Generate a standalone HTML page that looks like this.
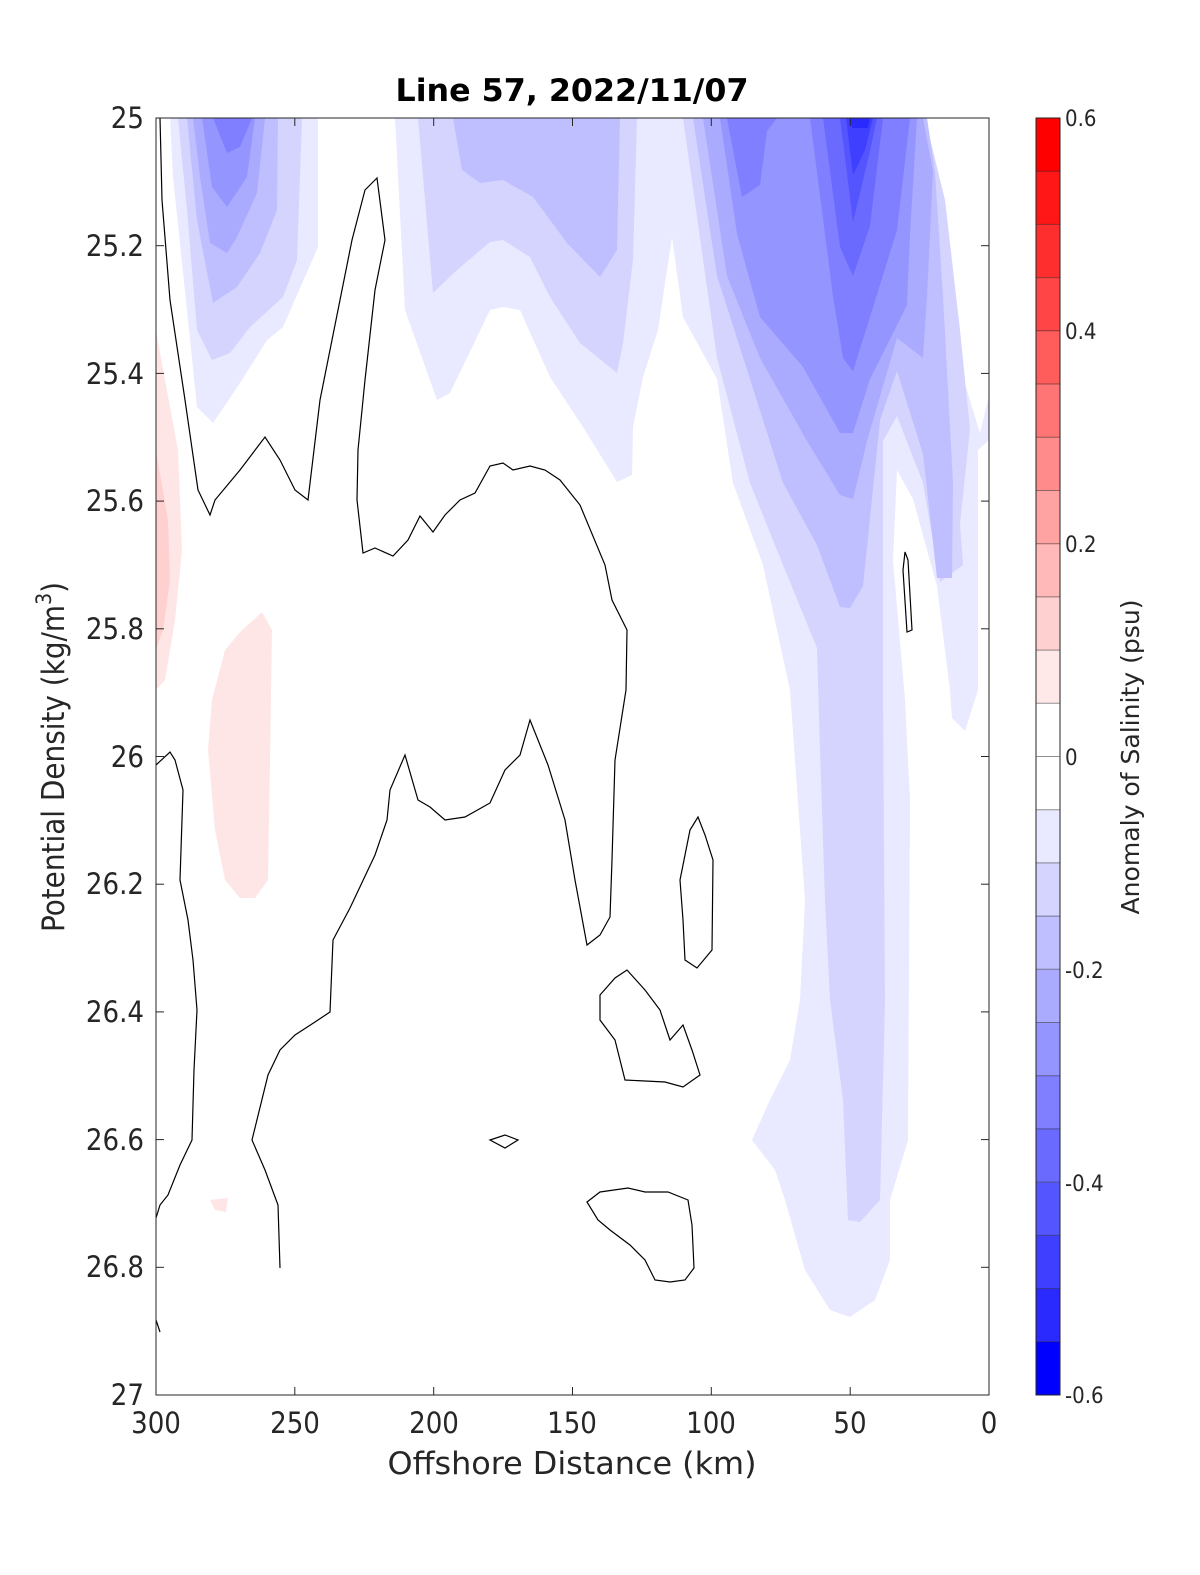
<!DOCTYPE html>
<html><head><meta charset="utf-8"><style>
html,body{margin:0;padding:0;background:#fff;}
svg{display:block;font-family:"DejaVu Sans Condensed","DejaVu Sans","Liberation Sans",sans-serif;}
</style></head><body>
<svg width="1200" height="1575" viewBox="0 0 1200 1575" xmlns="http://www.w3.org/2000/svg">
<rect width="1200" height="1575" fill="#fff"/>
<defs><clipPath id="pc"><rect x="156" y="118" width="833" height="1277"/></clipPath></defs>
<g clip-path="url(#pc)" stroke="none">
<!-- left blob -->
<polygon fill="#e9e9ff" points="170,118 318,118 318,247 283,327 267,340 240,383 213,423 197,407 187,310 173,177"/>
<polygon fill="#d4d4ff" points="178,118 302,118 297,260 283,297 250,327 230,353 212,360 197,330 187,210"/>
<polygon fill="#bfbfff" points="187,118 278,118 277,210 260,253 237,287 213,303 197,220"/>
<polygon fill="#aaaaff" points="193,118 265,118 257,193 237,237 227,253 210,243 200,177"/>
<polygon fill="#9595ff" points="202,118 255,118 247,177 227,207 212,187"/>
<polygon fill="#7f7fff" points="213,118 252,118 240,147 227,153"/>
<!-- combined L1 middle+right -->
<polygon fill="#e9e9ff" points="395,118 923,118 935,185 957,358 980,433 989,396 989,440 978,450 978,690 965,731 952,718 950,690 937,586 913,499 897,470 893,560 905,700 910,800 908,1140 890,1200 890,1260 875,1300 850,1317 830,1310 805,1270 785,1200 775,1170 752,1140 770,1100 790,1060 800,1000 805,900 790,690 763,565 733,483 717,379 683,317 672,237 664,290 658,330 643,377 633,427 632,475 617,482 583,427 550,377 520,310 503,307 490,310 477,337 450,393 437,400 405,310"/>
<!-- middle L2, L3 -->
<polygon fill="#d4d4ff" points="418,118 637,118 633,260 623,343 617,373 580,343 550,297 530,257 503,240 490,242 457,270 433,293"/>
<polygon fill="#bfbfff" points="453,118 620,118 617,250 600,277 567,243 533,197 503,180 480,183 462,170"/>
<!-- right L2 -->
<polygon fill="#d4d4ff" points="683,118 925,118 945,200 960,330 970,429 960,524 963,565 940,582 923,483 897,416 883,441 883,700 885,1000 880,1200 860,1222 848,1220 843,1100 830,1000 825,900 820,750 817,648 783,565 750,483 717,358"/>
<polygon fill="#bfbfff" points="693,118 927,118 935,172 943,296 953,483 952,578 937,578 923,454 897,371 880,420 863,586 850,608 840,607 817,545 783,483 750,379 717,276"/>
<polygon fill="#aaaaff" points="703,118 923,118 933,172 927,296 923,358 897,338 867,441 853,499 840,495 807,441 760,358 727,276"/>
<polygon fill="#9595ff" points="720,118 917,118 910,234 907,305 870,379 853,433 840,433 803,367 760,317 737,234"/>
<polygon fill="#7f7fff" points="727,118 777,118 767,131 760,185 742,197"/>
<polygon fill="#7f7fff" points="810,118 910,118 897,230 870,317 853,371 843,358 833,296"/>
<polygon fill="#6a6aff" points="823,118 883,118 870,226 853,276 840,247"/>
<polygon fill="#5555ff" points="840,118 877,118 870,151 853,222"/>
<polygon fill="#3f3fff" points="846,118 873,118 865,150 853,175"/>
<polygon fill="#2a2aff" points="850,118 870,118 868,128 852,128"/>
<!-- red -->
<polygon fill="#ffe6e6" points="156,330 165,380 178,450 182,550 175,620 165,680 156,690"/>
<polygon fill="#ffd0d0" points="156,450 168,520 170,580 163,630 156,650"/>
<polygon fill="#ffe6e6" points="240,632 262,612 272,630 270,760 268,880 255,898 240,898 225,880 215,830 208,750 212,700 225,650"/>
<polygon fill="#ffe6e6" points="210,1200 228,1198 226,1212 215,1210"/>
<!-- contours -->
<g fill="none" stroke="#000" stroke-width="1.2">
<polyline points="160,118 162,200 170,300 185,400 198,490 210,515 215,500 240,470 265,437 280,460 295,490 308,500 320,400 340,300 352,240 365,190 377,178 385,240 375,290 365,380 358,450 357,500 363,553 375,548 393,556 408,540 420,516 433,532 445,515 460,500 475,493 490,466 503,463 513,470 530,466 545,470 560,480 580,505 605,565 612,600 627,630 626,690 615,760 612,860 610,917 600,935 587,945 575,880 565,820 548,765 530,720 520,755 505,770 490,803 465,817 445,820 430,807 418,800 405,755 390,790 387,820 375,855 350,908 333,940 330,1012 315,1022 295,1035 280,1050 268,1075 252,1140 265,1170 278,1205 280,1268"/>
<polyline points="156,765 170,752 175,760 183,790 180,880 188,920 193,960 197,1010 194,1070 192,1140 180,1165 168,1195 160,1205 156,1218"/>
<polyline points="156,1320 160,1332"/>
<polygon points="680,880 690,830 698,817 705,835 713,860 712,950 697,968 685,960 683,920"/>
<polygon points="600,995 615,978 627,970 645,990 660,1010 670,1040 683,1025 692,1050 700,1075 683,1087 665,1082 625,1080 615,1040 600,1020"/>
<polygon points="490,1140 505,1135 518,1140 505,1148"/>
<polygon points="587,1202 600,1192 628,1188 645,1192 668,1192 688,1200 692,1225 694,1268 685,1280 670,1282 655,1280 645,1260 630,1245 610,1230 598,1220"/>
<polygon points="905,552 908,560 912,630 907,632 903,570"/>
</g>
</g>
<rect x="156" y="118" width="833" height="1277" fill="none" stroke="#262626" stroke-width="1"/>
<g stroke="#262626" stroke-width="1">
<line x1="156" y1="245.7" x2="164" y2="245.7"/><line x1="981" y1="245.7" x2="989" y2="245.7"/>
<line x1="156" y1="373.4" x2="164" y2="373.4"/><line x1="981" y1="373.4" x2="989" y2="373.4"/>
<line x1="156" y1="501.1" x2="164" y2="501.1"/><line x1="981" y1="501.1" x2="989" y2="501.1"/>
<line x1="156" y1="628.8" x2="164" y2="628.8"/><line x1="981" y1="628.8" x2="989" y2="628.8"/>
<line x1="156" y1="756.5" x2="164" y2="756.5"/><line x1="981" y1="756.5" x2="989" y2="756.5"/>
<line x1="156" y1="884.2" x2="164" y2="884.2"/><line x1="981" y1="884.2" x2="989" y2="884.2"/>
<line x1="156" y1="1011.9" x2="164" y2="1011.9"/><line x1="981" y1="1011.9" x2="989" y2="1011.9"/>
<line x1="156" y1="1139.6" x2="164" y2="1139.6"/><line x1="981" y1="1139.6" x2="989" y2="1139.6"/>
<line x1="156" y1="1267.3" x2="164" y2="1267.3"/><line x1="981" y1="1267.3" x2="989" y2="1267.3"/>
<line x1="294.8" y1="1395" x2="294.8" y2="1387"/><line x1="294.8" y1="118" x2="294.8" y2="126"/>
<line x1="433.7" y1="1395" x2="433.7" y2="1387"/><line x1="433.7" y1="118" x2="433.7" y2="126"/>
<line x1="572.5" y1="1395" x2="572.5" y2="1387"/><line x1="572.5" y1="118" x2="572.5" y2="126"/>
<line x1="711.3" y1="1395" x2="711.3" y2="1387"/><line x1="711.3" y1="118" x2="711.3" y2="126"/>
<line x1="850.2" y1="1395" x2="850.2" y2="1387"/><line x1="850.2" y1="118" x2="850.2" y2="126"/>
</g>
<g font-size="29" fill="#262626" text-anchor="end">
<text x="144" y="128">25</text><text x="144" y="256">25.2</text><text x="144" y="384">25.4</text>
<text x="144" y="511">25.6</text><text x="144" y="639">25.8</text><text x="144" y="767">26</text>
<text x="144" y="894">26.2</text><text x="144" y="1022">26.4</text><text x="144" y="1150">26.6</text>
<text x="144" y="1277">26.8</text><text x="144" y="1405">27</text>
</g>
<g font-size="29" fill="#262626" text-anchor="middle">
<text x="156" y="1433">300</text><text x="295" y="1433">250</text><text x="434" y="1433">200</text>
<text x="572" y="1433">150</text><text x="711" y="1433">100</text><text x="850" y="1433">50</text><text x="989" y="1433">0</text>
<text x="572" y="1474" font-size="31" textLength="369" lengthAdjust="spacingAndGlyphs">Offshore Distance (km)</text>
<text x="572" y="101" font-size="31" font-weight="bold" fill="#000" textLength="353" lengthAdjust="spacingAndGlyphs">Line 57, 2022/11/07</text>
</g>
<text transform="translate(64,757) rotate(-90)" font-size="31" fill="#262626" text-anchor="middle">Potential Density (kg/m<tspan font-size="21" dy="-13">3</tspan><tspan dy="13">)</tspan></text>
<g stroke="none">
<rect x="1036" y="118" width="24" height="54" fill="#ff0000"/>
<rect x="1036" y="171" width="24" height="54" fill="#ff1717"/>
<rect x="1036" y="224" width="24" height="54" fill="#ff2e2e"/>
<rect x="1036" y="277" width="24" height="54" fill="#ff4545"/>
<rect x="1036" y="331" width="24" height="54" fill="#ff5c5c"/>
<rect x="1036" y="384" width="24" height="54" fill="#ff7474"/>
<rect x="1036" y="437" width="24" height="54" fill="#ff8b8b"/>
<rect x="1036" y="490" width="24" height="54" fill="#ffa2a2"/>
<rect x="1036" y="544" width="24" height="54" fill="#ffb9b9"/>
<rect x="1036" y="597" width="24" height="54" fill="#ffd0d0"/>
<rect x="1036" y="650" width="24" height="54" fill="#ffe8e8"/>
<rect x="1036" y="703" width="24" height="54" fill="#ffffff"/>
<rect x="1036" y="757" width="24" height="54" fill="#ffffff"/>
<rect x="1036" y="810" width="24" height="54" fill="#e9e9ff"/>
<rect x="1036" y="863" width="24" height="54" fill="#d4d4ff"/>
<rect x="1036" y="916" width="24" height="54" fill="#bfbfff"/>
<rect x="1036" y="970" width="24" height="54" fill="#aaaaff"/>
<rect x="1036" y="1023" width="24" height="54" fill="#9595ff"/>
<rect x="1036" y="1076" width="24" height="54" fill="#7f7fff"/>
<rect x="1036" y="1129" width="24" height="54" fill="#6a6aff"/>
<rect x="1036" y="1183" width="24" height="54" fill="#5555ff"/>
<rect x="1036" y="1236" width="24" height="54" fill="#3f3fff"/>
<rect x="1036" y="1289" width="24" height="54" fill="#2a2aff"/>
<rect x="1036" y="1342" width="24" height="53" fill="#0000ff"/>
</g>
<g stroke="#262626" stroke-width="1" stroke-opacity="0.5">
<line x1="1036" y1="171.2" x2="1060" y2="171.2"/><line x1="1036" y1="224.4" x2="1060" y2="224.4"/>
<line x1="1036" y1="277.6" x2="1060" y2="277.6"/><line x1="1036" y1="330.8" x2="1060" y2="330.8"/>
<line x1="1036" y1="384" x2="1060" y2="384"/><line x1="1036" y1="437.3" x2="1060" y2="437.3"/>
<line x1="1036" y1="490.5" x2="1060" y2="490.5"/><line x1="1036" y1="543.7" x2="1060" y2="543.7"/>
<line x1="1036" y1="596.9" x2="1060" y2="596.9"/><line x1="1036" y1="650.1" x2="1060" y2="650.1"/>
<line x1="1036" y1="703.3" x2="1060" y2="703.3"/><line x1="1036" y1="756.5" x2="1060" y2="756.5"/>
<line x1="1036" y1="809.7" x2="1060" y2="809.7"/><line x1="1036" y1="862.9" x2="1060" y2="862.9"/>
<line x1="1036" y1="916.1" x2="1060" y2="916.1"/><line x1="1036" y1="969.3" x2="1060" y2="969.3"/>
<line x1="1036" y1="1022.5" x2="1060" y2="1022.5"/><line x1="1036" y1="1075.7" x2="1060" y2="1075.7"/>
<line x1="1036" y1="1128.9" x2="1060" y2="1128.9"/><line x1="1036" y1="1182.1" x2="1060" y2="1182.1"/>
<line x1="1036" y1="1235.4" x2="1060" y2="1235.4"/><line x1="1036" y1="1288.6" x2="1060" y2="1288.6"/>
<line x1="1036" y1="1341.8" x2="1060" y2="1341.8"/>
</g>
<rect x="1036" y="118" width="24" height="1277" fill="none" stroke="#262626" stroke-width="1"/>
<g font-size="22" fill="#262626">
<text x="1065" y="126">0.6</text><text x="1065" y="339">0.4</text><text x="1065" y="552">0.2</text>
<text x="1065" y="765">0</text><text x="1065" y="978">-0.2</text><text x="1065" y="1191">-0.4</text><text x="1065" y="1403">-0.6</text>
</g>
<text transform="translate(1139,757) rotate(-90)" font-size="25" fill="#262626" text-anchor="middle" textLength="315" lengthAdjust="spacingAndGlyphs">Anomaly of Salinity (psu)</text>
</svg>
</body></html>
